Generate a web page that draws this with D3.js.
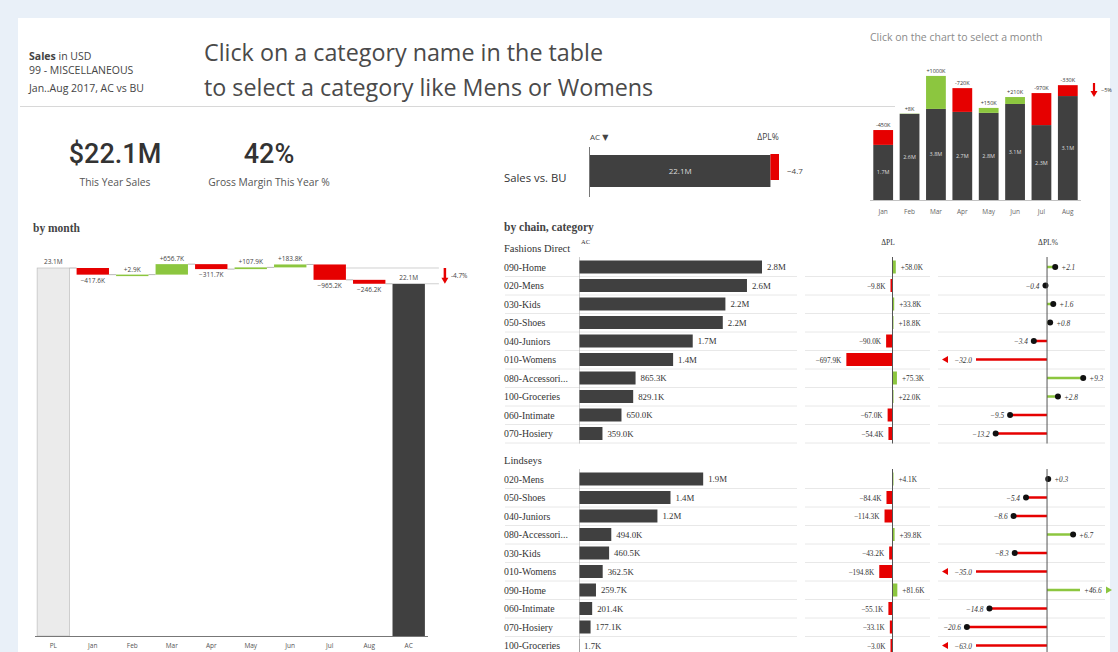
<!DOCTYPE html>
<html><head><meta charset="utf-8">
<script src="https://cdn.jsdelivr.net/npm/d3@7"></script>
<style>
html,body{margin:0;padding:0;background:#e9f0f8;}
svg{display:block;}
</style></head><body>
<svg id="c" width="1118" height="652"></svg>
<script>
// ---------------- DATA ----------------
const headerLines = ["Sales in USD", "99 - MISCELLANEOUS", "Jan..Aug 2017, AC vs BU"];
const titleLines = ["Click on a category name in the table", "to select a category like Mens or Womens"];
const kpiValues = ["$22.1M", "42%"];
const kpiLabels = ["This Year Sales", "Gross Margin This Year %"];

const wfCategories = ["PL", "Jan", "Feb", "Mar", "Apr", "May", "Jun", "Jul", "Aug", "AC"];
const wfStart = 23.1e6;
const wfDeltas = [-417.6e3, 2.9e3, 656.7e3, -311.7e3, 107.9e3, 183.8e3, -965.2e3, -246.2e3];
const wfDeltaPctLabel = "-4.7%";

const months = ["Jan", "Feb", "Mar", "Apr", "May", "Jun", "Jul", "Aug"];
const monthAC = [1.67e6, 2.618e6, 3.76e6, 2.67e6, 2.79e6, 3.12e6, 2.27e6, 3.15e6];
const monthBU = [2.12e6, 2.610e6, 2.76e6, 3.39e6, 2.64e6, 2.91e6, 3.24e6, 3.48e6];

const salesAC = 22.1e6;
const salesBU = 23.15e6;
const salesDeltaPct = -4.7;

const chainNames = ["Fashions Direct", "Lindseys"];
const fdCategories = ["090-Home", "020-Mens", "030-Kids", "050-Shoes", "040-Juniors", "010-Womens", "080-Accessori...", "100-Groceries", "060-Intimate", "070-Hosiery"];
const fdAC = [2.8e6, 2.57e6, 2.24e6, 2.2e6, 1.74e6, 1.44e6, 865.3e3, 829.1e3, 650.0e3, 359.0e3];
const fdDeltaPL = [58.0e3, -9.8e3, 33.8e3, 18.8e3, -90.0e3, -697.9e3, 75.3e3, 22.0e3, -67.0e3, -54.4e3];
const fdDeltaPct = [2.1, -0.4, 1.6, 0.8, -3.4, -32.0, 9.3, 2.8, -9.5, -13.2];

const liCategories = ["020-Mens", "050-Shoes", "040-Juniors", "080-Accessori...", "030-Kids", "010-Womens", "090-Home", "060-Intimate", "070-Hosiery", "100-Groceries"];
const liAC = [1.9e6, 1.4e6, 1.2e6, 494.0e3, 460.5e3, 362.5e3, 259.7e3, 201.4e3, 177.1e3, 1.7e3];
const liDeltaPL = [4.1e3, -84.4e3, -114.3e3, 39.8e3, -43.2e3, -194.8e3, 81.6e3, -55.1e3, -33.1e3, -3.0e3];
const liDeltaPct = [0.3, -5.4, -8.6, 6.7, -8.3, -35.0, 46.6, -14.8, -20.6, -63.0];

// ---------------- STYLE ----------------
const RED = "#e60000", GREEN = "#8cc63f", DARK = "#404040";
const SANS = "'Open Sans', 'DejaVu Sans', sans-serif";
const SERIF = "'Liberation Serif', 'DejaVu Serif', serif";

const svg = d3.select("#c");
svg.append("rect").attr("x", 18).attr("y", 18).attr("width", 1092).attr("height", 640).attr("fill", "#fff");

const fmtM = v => Math.abs(v) >= 1e6 ? d3.format(".1f")(v / 1e6) + "M" : d3.format(".1f")(v / 1e3) + "K";
const fmtDK = v => (v >= 0 ? "+" : "") + d3.format(".1f")(v / 1e3) + "K";

// ---------------- HEADER ----------------
const hdr = svg.append("g").attr("font-family", SANS).attr("font-size", 10.5).attr("fill", "#444");
headerLines.forEach((t, i) => {
  const tx = hdr.append("text").attr("x", 29).attr("y", [60, 74, 92][i]);
  if (i === 0) { tx.append("tspan").attr("font-weight", "bold").text("Sales"); tx.append("tspan").text(" in USD"); }
  else tx.text(t);
});
titleLines.forEach((t, i) => {
  svg.append("text").attr("x", 204).attr("y", [61, 96][i]).attr("font-family", SANS)
    .attr("font-size", 23.3).attr("fill", "#4a4a4a").text(t);
});
svg.append("line").attr("x1", 20).attr("x2", 895).attr("y1", 106.5).attr("y2", 106.5).attr("stroke", "#d8d8d8");

// KPIs
const kpiX = [115, 269];
kpiValues.forEach((v, i) => {
  svg.append("text").attr("x", kpiX[i]).attr("y", 163).attr("text-anchor", "middle")
    .attr("font-family", "Roboto, sans-serif").attr("font-weight", 500).attr("font-size", 27).attr("fill", "#333").text(v);
  svg.append("text").attr("x", kpiX[i]).attr("y", 186).attr("text-anchor", "middle")
    .attr("font-family", SANS).attr("font-size", 10.3).attr("fill", "#555").text(kpiLabels[i]);
});

// ---------------- WATERFALL ----------------
svg.append("text").attr("x", 33).attr("y", 232).attr("font-family", SERIF).attr("font-weight", "bold")
  .attr("font-size", 11.5).attr("fill", "#444").text("by month");
const wfX = d3.scaleBand().domain(wfCategories).range([30, 432]).padding(0.18);
const wfY = d3.scaleLinear().domain([0, wfStart]).range([636, 268]);
const bw = wfX.bandwidth();
let cum = wfStart;
const steps = months.map((m, i) => { const s = cum; cum += wfDeltas[i]; return { m, s, e: cum, d: wfDeltas[i] }; });
const wfEnd = cum;
const wf = svg.append("g").attr("font-family", SANS).attr("font-size", 6.5).attr("fill", "#444");
wf.append("rect").attr("x", wfX("PL")).attr("y", wfY(wfStart)).attr("width", bw).attr("height", wfY(0) - wfY(wfStart))
  .attr("fill", "#ebebeb").attr("stroke", "#b5b5b5").attr("stroke-width", 0.6);
wf.append("text").attr("x", wfX("PL") + bw / 2).attr("y", wfY(wfStart) - 4).attr("text-anchor", "middle").text(fmtM(wfStart));
const connect = [{ x0: wfX("PL") + bw, v: wfStart }].concat(steps.map(s => ({ x0: wfX(s.m) + bw, v: s.e })));
connect.forEach((c, i) => {
  const next = wfCategories[i + 1];
  wf.append("line").attr("x1", c.x0).attr("x2", wfX(next)).attr("y1", wfY(c.v)).attr("y2", wfY(c.v))
    .attr("stroke", "#9a9a9a").attr("stroke-width", 0.7);
});
steps.forEach(s => {
  const top = wfY(Math.max(s.s, s.e)), bot = wfY(Math.min(s.s, s.e));
  const h = Math.max(bot - top, 1.5);
  wf.append("rect").attr("x", wfX(s.m)).attr("y", top).attr("width", bw).attr("height", h)
    .attr("fill", s.d >= 0 ? GREEN : RED);
  wf.append("text").attr("x", wfX(s.m) + bw / 2).attr("y", s.d >= 0 ? top - 3 : top + h + 8)
    .attr("text-anchor", "middle").text(fmtDK(s.d));
});
wf.append("rect").attr("x", wfX("AC")).attr("y", wfY(wfEnd)).attr("width", bw).attr("height", wfY(0) - wfY(wfEnd)).attr("fill", DARK);
wf.append("text").attr("x", wfX("AC") + bw / 2).attr("y", wfY(wfEnd) - 4).attr("text-anchor", "middle").text(fmtM(wfEnd));
const refR = wfX("AC") + bw + 14;
wf.append("line").attr("x1", wfX("Jul") + bw).attr("x2", refR).attr("y1", wfY(wfStart)).attr("y2", wfY(wfStart)).attr("stroke", "#bbb").attr("stroke-width", 0.7);
wf.append("line").attr("x1", wfX("AC") + bw).attr("x2", refR).attr("y1", wfY(wfEnd)).attr("y2", wfY(wfEnd)).attr("stroke", "#bbb").attr("stroke-width", 0.7);
const ax = refR + 6;
wf.append("line").attr("x1", ax).attr("x2", ax).attr("y1", wfY(wfStart)).attr("y2", wfY(wfEnd) - 5).attr("stroke", RED).attr("stroke-width", 2.5);
wf.append("path").attr("d", `M${ax - 3.5},${wfY(wfEnd) - 6}L${ax + 3.5},${wfY(wfEnd) - 6}L${ax},${wfY(wfEnd)}Z`).attr("fill", RED);
wf.append("text").attr("x", ax + 6).attr("y", (wfY(wfStart) + wfY(wfEnd)) / 2 + 2).text(wfDeltaPctLabel);
wf.append("line").attr("x1", 35).attr("x2", 428).attr("y1", 636.5).attr("y2", 636.5).attr("stroke", "#777");
wfCategories.forEach(c => {
  wf.append("text").attr("x", wfX(c) + bw / 2).attr("y", 648).attr("text-anchor", "middle").attr("fill", "#555").text(c);
});

// ---------------- TOP RIGHT MONTH CHART ----------------
svg.append("text").attr("x", 870).attr("y", 41).attr("font-family", SANS).attr("font-size", 10.5).attr("fill", "#8a8a8a")
  .text("Click on the chart to select a month");
const tX = d3.scaleBand().domain(months).range([870, 1081]).paddingInner(0.25).paddingOuter(0.125);
const tY = d3.scaleLinear().domain([0, 4e6]).range([200, 68]);
const tb = tX.bandwidth();
const tg = svg.append("g").attr("font-family", SANS);
months.forEach((m, i) => {
  const ac = monthAC[i], bu = monthBU[i], lo = Math.min(ac, bu), hi = Math.max(ac, bu);
  tg.append("rect").attr("x", tX(m)).attr("y", tY(lo)).attr("width", tb).attr("height", tY(0) - tY(lo)).attr("fill", DARK);
  tg.append("rect").attr("x", tX(m)).attr("y", tY(hi)).attr("width", tb).attr("height", tY(lo) - tY(hi)).attr("fill", ac >= bu ? GREEN : RED);
  tg.append("text").attr("x", tX(m) + tb / 2).attr("y", (tY(lo) + tY(0)) / 2 + 2).attr("text-anchor", "middle")
    .attr("font-size", 5.5).attr("fill", "#ddd").text(fmtM(ac));
  const d = ac - bu;
  tg.append("text").attr("x", tX(m) + tb / 2).attr("y", tY(hi) - 3).attr("text-anchor", "middle")
    .attr("font-size", 5.5).attr("fill", "#333").text((d >= 0 ? "+" : "-") + d3.format(".0f")(Math.abs(d) / 1e3) + "K");
  tg.append("text").attr("x", tX(m) + tb / 2).attr("y", 214).attr("text-anchor", "middle")
    .attr("font-size", 6.5).attr("fill", "#666").text(m);
});
tg.append("line").attr("x1", 870).attr("x2", 1081).attr("y1", 200.5).attr("y2", 200.5).attr("stroke", "#999").attr("stroke-width", 0.6);
const totAC = d3.sum(monthAC), totBU = d3.sum(monthBU);
tg.append("line").attr("x1", 1094).attr("x2", 1094).attr("y1", 83).attr("y2", 92).attr("stroke", RED).attr("stroke-width", 2.2);
tg.append("path").attr("d", "M1090.5,91L1097.5,91L1094,97Z").attr("fill", RED);
tg.append("text").attr("x", 1101).attr("y", 92).attr("font-size", 5.5).attr("fill", "#333").text(d3.format(".0%")((totAC - totBU) / totBU));

// ---------------- SALES VS BU ----------------
const sX = d3.scaleLinear().domain([0, salesBU]).range([590, 779]);
const sg = svg.append("g").attr("font-family", SANS);
sg.append("text").attr("x", 504).attr("y", 182).attr("font-size", 11.3).attr("fill", "#333").text("Sales vs. BU");
sg.append("text").attr("x", 590).attr("y", 140).attr("font-size", 8).attr("fill", "#444").text("AC ▼");
sg.append("text").attr("x", 768).attr("y", 140).attr("text-anchor", "middle").attr("font-size", 8.5).attr("fill", "#444").text("ΔPL%");
sg.append("rect").attr("x", sX(0)).attr("y", 155).attr("width", sX(salesAC) - sX(0)).attr("height", 32).attr("fill", DARK);
sg.append("rect").attr("x", sX(salesAC)).attr("y", 154).attr("width", sX(salesBU) - sX(salesAC)).attr("height", 26).attr("fill", RED);
sg.append("line").attr("x1", 589.5).attr("x2", 589.5).attr("y1", 147).attr("y2", 197).attr("stroke", "#777");
sg.append("text").attr("x", (sX(0) + sX(salesAC)) / 2).attr("y", 174).attr("text-anchor", "middle").attr("font-size", 8).attr("fill", "#ddd").text(fmtM(salesAC));
sg.append("text").attr("x", sX(salesBU) + 8).attr("y", 174).attr("font-size", 8).attr("fill", "#444").text(d3.format(".1f")(salesDeltaPct));

// ---------------- TABLE ----------------
const tbl = svg.append("g").attr("font-family", SERIF).attr("font-size", 9.8).attr("fill", "#333");
tbl.append("text").attr("x", 504).attr("y", 231).attr("font-size", 11.5).attr("font-weight", "bold").attr("fill", "#444").text("by chain, category");
tbl.append("text").attr("x", 581).attr("y", 244).attr("font-size", 6.5).text("AC");
tbl.append("text").attr("x", 888).attr("y", 245).attr("text-anchor", "middle").attr("font-size", 7.5).text("ΔPL");
tbl.append("text").attr("x", 1048).attr("y", 245).attr("text-anchor", "middle").attr("font-size", 7.5).text("ΔPL%");

const acX = d3.scaleLinear().domain([0, 2.8e6]).range([579, 762]);
const dpX = d3.scaleLinear().domain([-1e6, 1e6]).range([892 - 65.4, 892 + 65.4]);
const pctLo = -27, pctHi = 16.7;
const ppX = d3.scaleLinear().domain([pctLo, pctHi]).range([942, 1112]);
const rowStep = 18.5, barH = 13;

function drawGroup(name, cats, ac, dpl, dpct, headerY) {
  tbl.append("text").attr("x", 504).attr("y", headerY + 3.5).attr("font-size", 10.5).text(name);
  const rowY = i => headerY + 19 + i * rowStep;
  const top = rowY(0) - 10, bot = rowY(cats.length - 1) + 10;
  cats.forEach((c, i) => {
    const cy = rowY(i);
    [[505, 797], [805, 930], [938, 1105]].forEach(seg => {
      tbl.append("line").attr("x1", seg[0]).attr("x2", seg[1]).attr("y1", cy + 9.5).attr("y2", cy + 9.5).attr("stroke", "#e2e2e2").attr("stroke-width", 0.8);
    });
    tbl.append("text").attr("x", 504).attr("y", cy + 3.5).text(c);
    tbl.append("rect").attr("x", acX(0)).attr("y", cy - barH / 2).attr("width", Math.max(acX(ac[i]) - acX(0), 0.5)).attr("height", barH).attr("fill", DARK);
    tbl.append("text").attr("x", acX(ac[i]) + 5).attr("y", cy + 3).attr("font-size", 8.8).text(fmtM(ac[i]));
    const v = dpl[i];
    const w = Math.max(Math.abs(dpX(v) - dpX(0)), 1.5);
    tbl.append("rect").attr("x", v >= 0 ? dpX(0) : dpX(0) - w).attr("y", cy - barH / 2).attr("width", w).attr("height", barH).attr("fill", v >= 0 ? GREEN : RED);
    tbl.append("text").attr("x", v >= 0 ? dpX(0) + w + 5 : dpX(0) - w - 5).attr("y", cy + 3)
      .attr("text-anchor", v >= 0 ? "start" : "end").attr("font-size", 7.3).text(fmtDK(v));
    const p = dpct[i], col = p >= 0 ? GREEN : RED;
    const lab = (p >= 0 ? "+" : "") + d3.format(".1f")(p);
    const z = ppX(0);
    if (p < pctLo) {
      const end = ppX(pctLo) + 34;
      tbl.append("line").attr("x1", z).attr("x2", end).attr("y1", cy).attr("y2", cy).attr("stroke", col).attr("stroke-width", 2.5);
      tbl.append("text").attr("x", end - 4).attr("y", cy + 3).attr("text-anchor", "end").attr("font-style", "italic").attr("font-size", 7.3).text(lab);
      tbl.append("path").attr("d", `M${ppX(pctLo)},${cy}L${ppX(pctLo) + 6},${cy - 3.5}L${ppX(pctLo) + 6},${cy + 3.5}Z`).attr("fill", col);
    } else if (p > pctHi) {
      const end = ppX(pctHi) - 32;
      tbl.append("line").attr("x1", z).attr("x2", end).attr("y1", cy).attr("y2", cy).attr("stroke", col).attr("stroke-width", 2.5);
      tbl.append("text").attr("x", end + 4).attr("y", cy + 3).attr("font-style", "italic").attr("font-size", 7.3).text(lab);
      tbl.append("path").attr("d", `M${ppX(pctHi)},${cy}L${ppX(pctHi) - 6},${cy - 3.5}L${ppX(pctHi) - 6},${cy + 3.5}Z`).attr("fill", col);
    } else {
      tbl.append("line").attr("x1", z).attr("x2", ppX(p)).attr("y1", cy).attr("y2", cy).attr("stroke", col).attr("stroke-width", 2.5);
      tbl.append("circle").attr("cx", ppX(p)).attr("cy", cy).attr("r", 3).attr("fill", "#111");
      tbl.append("text").attr("x", p >= 0 ? ppX(p) + 6 : ppX(p) - 6).attr("y", cy + 3)
        .attr("text-anchor", p >= 0 ? "start" : "end").attr("font-style", "italic").attr("font-size", 7.3).text(lab);
    }
  });
  tbl.append("line").attr("x1", 579.5).attr("x2", 579.5).attr("y1", top).attr("y2", bot).attr("stroke", "#aaa").attr("stroke-width", 0.6);
  tbl.append("line").attr("x1", dpX(0) + 0.5).attr("x2", dpX(0) + 0.5).attr("y1", top).attr("y2", bot).attr("stroke", "#555").attr("stroke-width", 1);
  tbl.append("line").attr("x1", ppX(0)).attr("x2", ppX(0)).attr("y1", top).attr("y2", bot).attr("stroke", "#555").attr("stroke-width", 1);
}
drawGroup(chainNames[0], fdCategories, fdAC, fdDeltaPL, fdDeltaPct, 248);
drawGroup(chainNames[1], liCategories, liAC, liDeltaPL, liDeltaPct, 460);
</script>
</body></html>
